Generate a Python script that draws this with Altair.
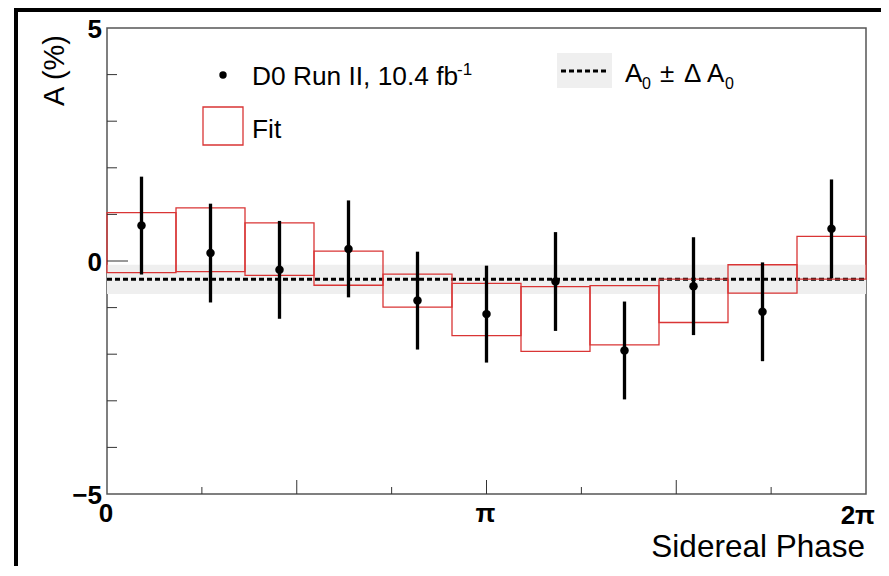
import altair as alt
import pandas as pd
import numpy as np

PI = float(np.pi)
N_BINS = 11

# measured asymmetry per sidereal-phase bin (%)
asym = [0.76, 0.17, -0.19, 0.26, -0.85, -1.14, -0.44, -1.92, -0.54, -1.09, 0.69]
asym_err = [1.05, 1.06, 1.05, 1.04, 1.05, 1.04, 1.06, 1.05, 1.05, 1.06, 1.06]
# fit band per bin (upper / lower edge of red boxes)
fit_hi = [1.04, 1.14, 0.82, 0.21, -0.28, -0.48, -0.55, -0.53, -0.39, -0.08, 0.53]
fit_lo = [-0.25, -0.23, -0.31, -0.52, -0.99, -1.60, -1.94, -1.80, -1.32, -0.69, -0.39]
# constant A0 +- dA0
a0 = -0.39
a0_lo = -0.71
a0_hi = -0.08

y_minor_ticks = [-4, -3, -2, -1, 1, 2, 3, 4]
y_major_ticks = [0]
x_minor_ticks = [PI / 4, 3 * PI / 4, 5 * PI / 4, 7 * PI / 4]
x_major_ticks = [PI / 2, PI, 3 * PI / 2]
x_label_values = [0, PI]
x_label_texts = ["0", "π"]
x_end_value = [2 * PI]
x_end_text = ["2π"]
y_label_values = [-5, 0, 5]
y_label_texts = ["\u22125", "0", "5"]

W, H = 759, 466
RED = "#d93535"
FONT = "Liberation Sans"

bw = 2 * PI / N_BINS
bins = pd.DataFrame({
    "lo": [i * bw for i in range(N_BINS)],
    "hi": [(i + 1) * bw for i in range(N_BINS)],
    "mid": [(i + 0.5) * bw for i in range(N_BINS)],
    "a": asym,
    "a_lo": [a - e for a, e in zip(asym, asym_err)],
    "a_hi": [a + e for a, e in zip(asym, asym_err)],
    "f_lo": fit_lo,
    "f_hi": fit_hi,
})

xs = alt.Scale(domain=[0, 2 * PI], nice=False, zero=False)
ys = alt.Scale(domain=[-5, 5], nice=False, zero=False)


def X(f):
    return alt.X(f, type="quantitative", scale=xs, axis=None)


def Y(f):
    return alt.Y(f, type="quantitative", scale=ys, axis=None)


band_df = pd.DataFrame({"x0": [0.0], "x1": [2 * PI], "lo": [a0_lo], "hi": [a0_hi], "a0": [a0]})

band = alt.Chart(band_df).mark_rect(color="#efefef").encode(
    x=X("x0"), x2="x1", y=Y("lo"), y2="hi")
a0_line = alt.Chart(band_df).mark_rule(color="black", strokeWidth=3, strokeDash=[5, 3]).encode(
    x=X("x0"), x2="x1", y=Y("a0"))
boxes = alt.Chart(bins).mark_rect(fillOpacity=0, stroke=RED, strokeWidth=1.3).encode(
    x=X("lo"), x2="hi", y=Y("f_lo"), y2="f_hi")
errs = alt.Chart(bins).mark_rule(color="black", strokeWidth=3.3).encode(
    x=X("mid"), y=Y("a_lo"), y2="a_hi")
pts = alt.Chart(bins).mark_circle(color="black", size=72, opacity=1).encode(
    x=X("mid"), y=Y("a"))

ytm = alt.Chart(pd.DataFrame({"v": y_minor_ticks})).mark_rule(color="#333", strokeWidth=1).encode(
    y=Y("v"), x=alt.value(0), x2=alt.value(10))
ytM = alt.Chart(pd.DataFrame({"v": y_major_ticks})).mark_rule(color="#333", strokeWidth=1).encode(
    y=Y("v"), x=alt.value(0), x2=alt.value(21))
xtm = alt.Chart(pd.DataFrame({"v": x_minor_ticks})).mark_rule(color="#333", strokeWidth=1).encode(
    x=X("v"), y=alt.value(H), y2=alt.value(H - 7))
xtM = alt.Chart(pd.DataFrame({"v": x_major_ticks})).mark_rule(color="#333", strokeWidth=1).encode(
    x=X("v"), y=alt.value(H), y2=alt.value(H - 14))

xlab = alt.Chart(pd.DataFrame({"v": x_label_values, "t": x_label_texts})).mark_text(
    font=FONT, fontSize=26, fontWeight="bold", color="black", align="center", baseline="top", dx=-1
).encode(x=X("v"), y=alt.value(H + 7), text="t:N")
xlab_end = alt.Chart(pd.DataFrame({"v": x_end_value, "t": x_end_text})).mark_text(
    font=FONT, fontSize=26, fontWeight="bold", color="black", align="right", baseline="top", dx=9
).encode(x=X("v"), y=alt.value(H + 9), text="t:N")
ylab = alt.Chart(pd.DataFrame({"v": y_label_values, "t": y_label_texts})).mark_text(
    font=FONT, fontSize=26, fontWeight="bold", color="black", align="right", baseline="middle", dy=2
).encode(y=Y("v"), x=alt.value(-5), text="t:N")

one = alt.Data(values=[{"k": 1}])


def txt(s, x, y, size, **kw):
    return alt.Chart(one).mark_text(text=s, font=FONT, fontSize=size, color="black",
                                    align=kw.pop("align", "left"),
                                    baseline=kw.pop("baseline", "alphabetic"), **kw).encode(
        x=alt.value(x), y=alt.value(y))


leg_dot = alt.Chart(one).mark_circle(color="black", size=55, opacity=1).encode(
    x=alt.value(116), y=alt.value(47))
leg_box = alt.Chart(one).mark_rect(fillOpacity=0, stroke=RED, strokeWidth=1.3).encode(
    x=alt.value(96), x2=alt.value(136), y=alt.value(79), y2=alt.value(117))
leg_band = alt.Chart(one).mark_rect(color="#efefef").encode(
    x=alt.value(450), x2=alt.value(505), y=alt.value(25), y2=alt.value(60))
leg_line = alt.Chart(one).mark_rule(color="black", strokeWidth=3, strokeDash=[5, 3]).encode(
    x=alt.value(454), x2=alt.value(502), y=alt.value(43))

texts = [
    txt("D0 Run II, 10.4 fb", 145, 57, 26.3),
    txt("-1", 350, 47, 17),
    txt("Fit", 145, 110, 26.3),
    txt("A", 518, 54, 26),
    txt("0", 535, 61, 16),
    txt("±", 553, 54, 26),
    txt("Δ", 577, 54, 26),
    txt("A", 600, 54, 26),
    txt("0", 618, 61, 16),
    txt("A (%)", -52, 7, 29, align="right", baseline="middle", angle=270),
    txt("Sidereal Phase", 758, 529, 31.5, align="right"),
]

frame_left = alt.Chart(one).mark_rule(color="black", strokeWidth=4).encode(
    x=alt.value(-91), y=alt.value(-19), y2=alt.value(540))
frame_top = alt.Chart(one).mark_rule(color="black", strokeWidth=4).encode(
    x=alt.value(-93), x2=alt.value(774), y=alt.value(-18))

chart = alt.layer(
    band, a0_line, boxes, errs, pts, ytm, ytM, xtm, xtM, xlab, xlab_end, ylab,
    leg_band, leg_line, leg_dot, leg_box, *texts, frame_left, frame_top,
).properties(
    width=W, height=H,
    autosize=alt.AutoSizeParams(type="none"),
    padding={"left": 99, "top": 20, "right": 15, "bottom": 72},
    background="white",
).configure_view(stroke="#555", strokeWidth=1.5)

chart.save("out.html", embed_options={"renderer": "svg", "actions": False})
